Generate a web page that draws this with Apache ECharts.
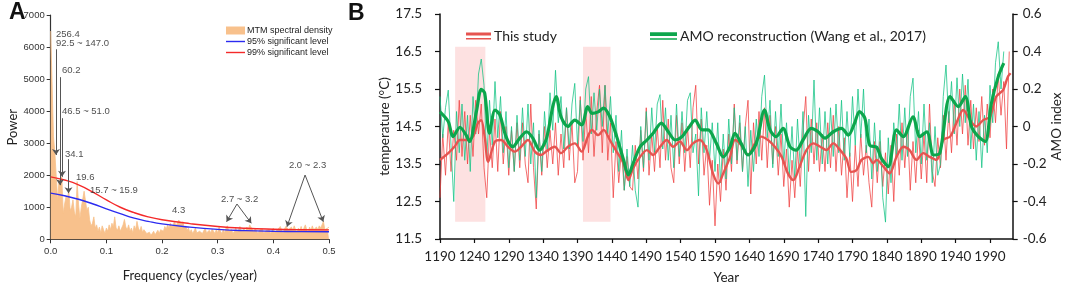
<!DOCTYPE html>
<html><head><meta charset="utf-8">
<script src="https://cdn.jsdelivr.net/npm/echarts@6/dist/echarts.min.js"></script>
<style>html,body{margin:0;padding:0;background:#fff}#c{width:1065px;height:284px}</style>
</head><body><div id="c"></div>
<script>
// ---------- Panel A: MTM spectrum ----------
const specStep = 0.0025; // frequency grid step (cycles/year), 0 .. 0.5
const specPower = [
6500,6550,3200,2700,2650,1200,1850,1750,1950,820,
1100,1330,1250,1540,900,1000,1230,850,700,1800,
1100,650,1000,1050,1500,1450,900,1000,600,420,
500,700,350,450,250,380,200,420,300,180,
350,250,450,300,500,380,700,350,280,420,
250,350,450,620,380,300,450,250,350,200,
420,300,560,350,250,400,220,300,360,180,
150,220,120,180,250,140,200,280,180,300,
350,250,400,320,450,350,500,380,450,550,
420,500,600,660,480,550,350,420,280,350,
220,300,180,260,350,200,150,250,300,180,
220,350,200,150,280,200,320,250,180,300,
200,380,250,180,300,200,350,420,250,200,
300,180,250,350,220,300,400,250,200,320,
250,380,300,450,500,300,220,350,250,180,
280,220,330,200,150,280,220,300,180,250,
350,220,180,300,250,400,280,200,320,400,
450,300,250,380,280,420,300,220,350,280,
400,250,350,450,300,220,380,280,420,300,
250,380,300,420,350,450,560,300,250,350,
380];
const sigFreq   = [0,0.025,0.05,0.075,0.1,0.125,0.15,0.175,0.2,0.25,0.3,0.35,0.4,0.45,0.5];
const sig95     = [1440,1360,1250,1110,950,800,660,560,480,380,310,270,250,240,235];
const sig99     = [1950,1850,1700,1480,1230,1000,830,700,610,490,400,345,315,300,295];
const arrowFrom = [[0.0095,5930],[0.0167,5060],[0.0203,3780],[0.032,2500],[0.3347,1101],[0.3347,1101],[0.457,2006],[0.457,2006]];
const arrowTo   = [[0.0095,2630],[0.0167,1690],[0.0203,1950],[0.032,1440],[0.316,549],[0.3604,500],[0.4245,393],[0.4898,549]];
const peakLabels = ['256.4','92.5 ~ 147.0','60.2','46.5 ~ 51.0','34.1','19.6','15.7 ~ 15.9','4.3','2.7 ~ 3.2','2.0 ~ 2.3'];
const peakLabelF = [0.0095,0.0095,0.0203,0.0203,0.0257,0.0455,0.0706,0.218,0.306,0.428];
const peakLabelP = [6405,6125,5282,4003,2661,1934,1538,914,1257,2296];

// ---------- Panel B: temperature & AMO ----------
const annualStart = 1190, annualStep = 4;
const tempAnnual = [
12.6,14.3,13.2,14.6,13.3,14.4,13.6,15.2,13.7,14.9,
13.5,14.8,13.7,15.2,14.3,15.1,13.4,12.6,14.4,13.4,
14.7,13.3,14.9,13.5,14.5,13.2,14.4,13.3,14.6,13.4,
14.6,13.5,13.0,15.1,13.4,12.3,14.3,13.2,14.5,13.4,
14.4,13.5,14.6,13.2,14.3,13.4,15.0,13.6,14.6,13.0,
13.3,15.3,13.6,14.9,13.8,15.3,13.7,14.9,15.6,13.8,
15.6,13.6,14.6,12.6,14.1,13.0,13.9,12.8,13.7,12.9,
12.8,14.0,13.1,14.4,13.3,15.0,13.2,14.3,13.3,14.5,
13.4,15.2,13.6,14.7,13.4,13.0,14.8,13.5,14.6,13.3,
14.5,13.4,15.0,15.6,13.5,14.7,13.2,14.0,12.4,13.6,
11.85,13.5,12.5,13.9,12.8,14.3,13.3,15.1,13.5,14.6,
13.3,14.5,15.2,12.7,14.6,13.5,14.9,13.6,15.0,13.4,
14.8,13.5,14.5,13.2,14.3,12.9,13.9,12.35,13.6,12.6,
13.9,12.9,14.4,15.3,13.3,14.7,13.5,14.6,13.3,14.3,
13.3,14.6,13.4,14.8,13.3,14.5,13.2,14.2,12.6,13.8,
12.5,14.0,12.9,14.3,13.2,14.0,13.0,12.35,14.1,13.0,
14.1,12.9,13.8,12.7,14.0,12.5,14.3,13.2,14.6,13.4,
14.5,12.8,14.1,13.0,14.4,13.1,14.3,13.0,15.1,13.3,
12.9,14.2,13.4,14.8,13.6,14.9,13.8,15.2,14.0,15.5,
14.3,15.6,14.0,15.2,13.9,15.0,14.1,15.3,14.0,15.1,
14.2,15.5,14.6,15.9,14.8,15.7,13.9,16.5];
const amoAnnual = [
0.16,-0.06,0.10,0.194,-0.10,-0.40,0.08,-0.14,0.12,-0.18,
0.06,-0.24,0.16,-0.04,0.28,0.36,0.22,-0.18,0.14,-0.10,
0.24,-0.06,0.16,-0.14,0.08,-0.22,0.00,-0.24,0.06,-0.18,
0.10,-0.16,0.12,-0.20,0.02,-0.38,-0.02,-0.24,0.08,-0.12,
0.18,-0.02,0.30,0.02,0.16,-0.12,0.10,-0.12,0.12,0.23,
-0.10,0.14,-0.08,0.20,0.266,-0.04,0.18,-0.02,0.20,0.00,
0.22,-0.04,0.16,-0.14,0.06,-0.24,-0.02,-0.34,-0.12,-0.32,
-0.10,-0.34,-0.43,0.00,-0.22,0.08,-0.18,0.10,-0.14,0.12,
0.17,-0.12,0.10,-0.18,0.06,-0.22,0.12,-0.16,0.08,-0.14,
0.14,0.18,-0.14,-0.04,-0.37,0.10,-0.14,0.08,-0.18,0.02,
-0.24,0.02,-0.30,-0.04,-0.28,0.04,-0.20,0.10,-0.18,0.06,
-0.24,0.00,-0.32,-0.02,-0.24,0.04,-0.16,0.16,0.274,-0.06,
0.14,-0.22,0.08,-0.16,0.12,-0.20,0.02,-0.26,0.00,-0.28,
0.04,-0.22,0.08,-0.48,0.06,-0.14,0.248,-0.18,0.10,-0.20,
0.08,-0.20,0.10,-0.16,0.12,-0.14,0.14,-0.18,0.08,-0.16,
0.16,-0.10,0.20,-0.06,0.20,-0.14,0.04,-0.28,0.02,-0.24,
-0.02,-0.38,-0.51,-0.06,-0.30,0.02,-0.16,0.12,-0.18,0.10,
-0.16,0.16,0.258,-0.14,0.08,-0.20,0.12,-0.18,0.02,-0.30,
0.00,-0.26,-0.20,0.16,0.328,0.02,0.24,-0.04,0.26,0.00,
0.28,0.02,0.252,-0.12,0.12,-0.18,0.08,-0.22,0.06,-0.14,
0.22,0.02,0.34,0.452,0.20,0.40];
const tempSmoothYears = [1190,1202,1211,1219,1228,1238,1245,1250,1255,1260,1270,1279,1289,1299,1308,1318,1328,1337,1347,1357,1366,1376,1386,1396,1405,1411,1420,1428,1437,1447,1457,1464,1471,1481,1491,1500,1510,1520,1529,1539,1549,1558,1568,1578,1587,1595,1602,1612,1619,1628,1638,1648,1657,1667,1677,1687,1696,1704,1713,1723,1733,1743,1752,1762,1772,1781,1788,1796,1803,1813,1820,1825,1835,1844,1854,1864,1873,1883,1893,1902,1912,1922,1932,1941,1951,1961,1970,1980,1990,1999,2009,2016,2020];
const tempSmooth = [13.61,13.79,13.96,14.14,14.14,14.23,14.59,14.67,14.23,13.56,14.10,14.14,13.96,13.83,13.96,14.14,13.83,13.74,13.87,13.96,13.79,13.96,14.05,13.83,14.23,14.41,14.27,14.41,14.14,13.83,13.52,13.07,13.39,13.69,13.87,13.74,13.96,14.14,13.96,14.10,13.87,14.05,14.14,13.87,13.25,12.98,13.25,13.69,14.14,14.01,13.74,14.05,14.23,14.14,13.96,13.69,13.25,13.07,13.43,13.87,14.05,13.96,13.87,14.05,13.87,13.65,13.29,13.34,13.61,13.69,13.52,13.61,13.43,13.25,13.69,13.96,13.87,13.61,13.79,13.69,13.61,14.14,14.23,14.59,14.94,14.67,14.50,14.67,14.76,15.30,15.47,15.83,15.92];
const amoSmoothYears = [1190,1202,1209,1219,1228,1233,1243,1250,1255,1262,1270,1277,1286,1296,1306,1316,1325,1335,1345,1354,1359,1366,1376,1386,1396,1405,1411,1420,1428,1437,1447,1457,1464,1471,1481,1491,1500,1512,1522,1532,1542,1551,1561,1571,1580,1592,1602,1612,1619,1628,1638,1650,1662,1670,1679,1689,1699,1708,1718,1730,1740,1750,1762,1774,1784,1793,1800,1808,1815,1825,1832,1842,1854,1864,1878,1888,1898,1908,1917,1932,1944,1954,1963,1973,1983,1992,2002,2010];
const amoSmooth = [0.078,0.026,-0.054,-0.004,-0.046,-0.08,0.08,0.198,0.178,-0.036,0.088,0.062,-0.054,-0.108,-0.062,-0.028,-0.062,-0.126,-0.062,0.106,0.16,0.052,0,0.034,0.008,0.106,0.07,0.078,0.098,0.052,-0.054,-0.178,-0.258,-0.196,-0.108,-0.072,-0.036,0.018,-0.028,-0.072,-0.054,-0.01,0.034,-0.018,-0.018,-0.09,-0.162,-0.108,-0.036,-0.09,-0.152,-0.09,0.088,-0.018,-0.054,-0.01,-0.108,-0.126,-0.072,-0.01,-0.028,-0.062,-0.028,-0.01,-0.046,0.018,0.08,0.044,-0.1,-0.11,-0.17,-0.214,-0.018,-0.054,0.052,-0.054,-0.028,-0.152,-0.142,0.16,0.106,0.16,0,-0.054,-0.08,0.124,0.266,0.338];
const warmPeriods = [[1212,1256],[1398,1438]];
const warmBand = [11.96,16.63];
const yearTicks = [1190,1240,1290,1340,1390,1440,1490,1540,1590,1640,1690,1740,1790,1840,1890,1940,1990];
const tempTicks = [11.5,12.5,13.5,14.5,15.5,16.5,17.5];
const amoTicks = [-0.6,-0.4,-0.2,0,0.2,0.4,0.6];

// ---------- build ----------
const fA = '"Liberation Sans", Arial, sans-serif';
const fB = 'Lato, "Open Sans", sans-serif';
const specData = specPower.map((p, i) => [i * specStep, p]);
const s95 = sigFreq.map((f, i) => [f, sig95[i]]);
const s99 = sigFreq.map((f, i) => [f, sig99[i]]);
const tempAnn = tempAnnual.map((v, i) => [annualStart + annualStep * i, v]);
const amoAnn = amoAnnual.map((v, i) => [annualStart + annualStep * i, v]);
const tempSm = tempSmooth.map((v, i) => [tempSmoothYears[i], v]);
const amoSm = amoSmooth.map((v, i) => [amoSmoothYears[i], v]);

const orange = '#F8C18C';
const cRedThin = '#EF4040', cRedThick = '#E65450';
const cGrnThin = '#12C283', cGrnThick = '#0CA64C';
const lineIcon = 'path://M0,0H19V1.4H0Z';

const chart = echarts.init(document.getElementById('c'));
chart.setOption({
  animation: false,
  backgroundColor: '#fff',
  title: [
    {text: 'A', left: 4, top: -4, textStyle: {fontSize: 23, fontWeight: 'bold', color: '#111', fontFamily: fA}},
    {text: 'B', left: 343, top: -3, textStyle: {fontSize: 23, fontWeight: 'bold', color: '#111', fontFamily: fA}}
  ],
  legend: [
    {left: 221, top: 21, orient: 'vertical', itemWidth: 19, itemHeight: 8, itemGap: 2, symbolKeepAspect: true,
     textStyle: {fontSize: 9, fontFamily: fA, color: '#222', padding: [0, 0, 0, -3]},
     data: [{name: 'MTM spectral density', icon: 'rect'},
            {name: '95% significant level', icon: lineIcon},
            {name: '99% significant level', icon: lineIcon}]},
    {left: 461, top: 24, itemWidth: 25, itemHeight: 8, itemGap: 3,
     textStyle: {fontSize: 14, fontFamily: fB, color: '#222', padding: [0, 0, 0, -2]},
     data: [{name: 'This study', icon: 'path://M0,0H25V3H0Z M0,5.5H25V7H0Z'}]},
    {left: 645, top: 24, itemWidth: 27, itemHeight: 8, itemGap: 3,
     textStyle: {fontSize: 14, fontFamily: fB, color: '#222', padding: [0, 0, 0, -2]},
     data: [{name: 'AMO reconstruction (Wang et al., 2017)', icon: 'path://M0,0H25V3.5H0Z M0,5.5H25V7H0Z'}]}
  ],
  grid: [
    {left: 50.7, top: 15, width: 278.3, height: 224.3, containLabel: false, outerBoundsMode: 'none'},
    {left: 440, top: 14, width: 572.7, height: 225, containLabel: false, outerBoundsMode: 'none'}
  ],
  xAxis: [
    {type: 'value', gridIndex: 0, min: 0, max: 0.5, interval: 0.1,
     name: 'Frequency (cycles/year)', nameLocation: 'middle', nameGap: 30,
     nameTextStyle: {fontSize: 13, fontFamily: fB, color: '#222'},
     axisLine: {onZero: false, lineStyle: {color: '#333', width: 1.2}},
     axisTick: {length: 4, lineStyle: {color: '#333'}},
     axisLabel: {fontSize: 9.5, fontFamily: fA, color: '#333', margin: 7, formatter: v => v.toFixed(1)},
     splitLine: {show: false}},
    {type: 'value', gridIndex: 1, min: 1190, max: 2023,
     name: 'Year', nameLocation: 'middle', nameGap: 32,
     nameTextStyle: {fontSize: 13.5, fontFamily: fB, color: '#222'},
     axisLine: {onZero: false, lineStyle: {color: '#111', width: 1.5}},
     axisTick: {customValues: yearTicks, length: 4, lineStyle: {color: '#111', width: 1.2}},
     axisLabel: {customValues: yearTicks, fontSize: 13.5, fontFamily: fB, color: '#222', margin: 11,
       hideOverlap: false, showMinLabel: true, formatter: v => String(Math.round(v))},
     splitLine: {show: false}}
  ],
  yAxis: [
    {type: 'value', gridIndex: 0, min: 0, max: 7000, interval: 1000,
     name: 'Power', nameLocation: 'middle', nameGap: 30, nameRotate: 90,
     nameTextStyle: {fontSize: 13, fontFamily: fB, color: '#222'},
     axisLine: {show: true, onZero: false, lineStyle: {color: '#333', width: 1.2}},
     axisTick: {show: true, length: 4, lineStyle: {color: '#333'}},
     axisLabel: {fontSize: 9.5, fontFamily: fA, color: '#333', margin: 6, formatter: v => String(v)},
     splitLine: {show: false}},
    {type: 'value', gridIndex: 1, min: 11.5, max: 17.5, position: 'left',
     name: 'temperature (°C)', nameLocation: 'middle', nameGap: 48, nameRotate: 90, nameMoveOverlap: false,
     nameTextStyle: {fontSize: 13.5, fontFamily: fB, color: '#222'},
     axisLine: {show: true, onZero: false, lineStyle: {color: '#111', width: 1.5}},
     axisTick: {show: true, customValues: tempTicks, length: 5, lineStyle: {color: '#111', width: 1.2}},
     axisLabel: {customValues: tempTicks, fontSize: 13.5, fontFamily: fB, color: '#222', margin: 18, formatter: v => v.toFixed(1)},
     splitLine: {show: false}},
    {type: 'value', gridIndex: 1, min: -0.6, max: 0.6, position: 'right',
     name: 'AMO index', nameLocation: 'middle', nameGap: 37, nameRotate: 90, nameMoveOverlap: false,
     nameTextStyle: {fontSize: 13.5, fontFamily: fB, color: '#222'},
     axisLine: {show: true, onZero: false, lineStyle: {color: '#111', width: 1.5}},
     axisTick: {show: true, customValues: amoTicks, length: 5, lineStyle: {color: '#111', width: 1.2}},
     axisLabel: {customValues: amoTicks, fontSize: 13.5, fontFamily: fB, color: '#222', margin: 10,
       formatter: v => (Math.abs(v) < 1e-9 ? '0' : (+v.toFixed(1)).toString())},
     splitLine: {show: false}}
  ],
  series: [
    {name: 'MTM spectral density', type: 'line', xAxisIndex: 0, yAxisIndex: 0, data: specData,
     symbol: 'none', itemStyle: {color: orange}, lineStyle: {color: orange, width: 0.8},
     areaStyle: {color: orange, opacity: 1}, z: 1},
    {name: '95% significant level', type: 'line', xAxisIndex: 0, yAxisIndex: 0, data: s95, smooth: 0.5,
     symbol: 'none', itemStyle: {color: '#2B2BF0'}, lineStyle: {color: '#2B2BF0', width: 1.4}, z: 3},
    {name: '99% significant level', type: 'line', xAxisIndex: 0, yAxisIndex: 0, data: s99, smooth: 0.5,
     symbol: 'none', itemStyle: {color: '#F42A2A'}, lineStyle: {color: '#F42A2A', width: 1.4}, z: 3},
    {name: 'peaks', type: 'scatter', xAxisIndex: 0, yAxisIndex: 0, symbolSize: 0, silent: true, z: 5,
     data: peakLabels.map((t, i) => ({name: t, value: [peakLabelF[i], peakLabelP[i]]})),
     label: {show: true, position: 'right', distance: 0, formatter: '{b}', fontSize: 9.5, fontFamily: fA, color: '#222'},
     markLine: {silent: true, symbol: ['none', 'arrow'], symbolSize: 6, precision: 4,
       lineStyle: {color: '#555', width: 1, type: 'solid'}, label: {show: false},
       data: arrowFrom.map((a, i) => [{coord: a}, {coord: arrowTo[i]}])}},
    {name: 'This study (annual)', type: 'line', xAxisIndex: 1, yAxisIndex: 1, data: tempAnn,
     symbol: 'none', lineStyle: {color: cRedThin, width: 0.9, opacity: 0.85}, itemStyle: {color: cRedThin}, z: 2,
     markArea: {silent: true, itemStyle: {color: '#FDE1E1'},
       data: warmPeriods.map(p => [{xAxis: p[0], yAxis: warmBand[0]}, {xAxis: p[1], yAxis: warmBand[1]}])}},
    {name: 'AMO (annual)', type: 'line', xAxisIndex: 1, yAxisIndex: 2, data: amoAnn,
     symbol: 'none', lineStyle: {color: cGrnThin, width: 0.9, opacity: 0.85}, itemStyle: {color: cGrnThin}, z: 2},
    {name: 'This study', type: 'line', xAxisIndex: 1, yAxisIndex: 1, data: tempSm, smooth: 0.3,
     symbol: 'none', lineStyle: {color: cRedThick, width: 2.4}, itemStyle: {color: cRedThick}, z: 3},
    {name: 'AMO reconstruction (Wang et al., 2017)', type: 'line', xAxisIndex: 1, yAxisIndex: 2, data: amoSm, smooth: 0.3,
     symbol: 'none', lineStyle: {color: cGrnThick, width: 3.2}, itemStyle: {color: cGrnThick}, z: 4}
  ]
});
</script></body></html>
